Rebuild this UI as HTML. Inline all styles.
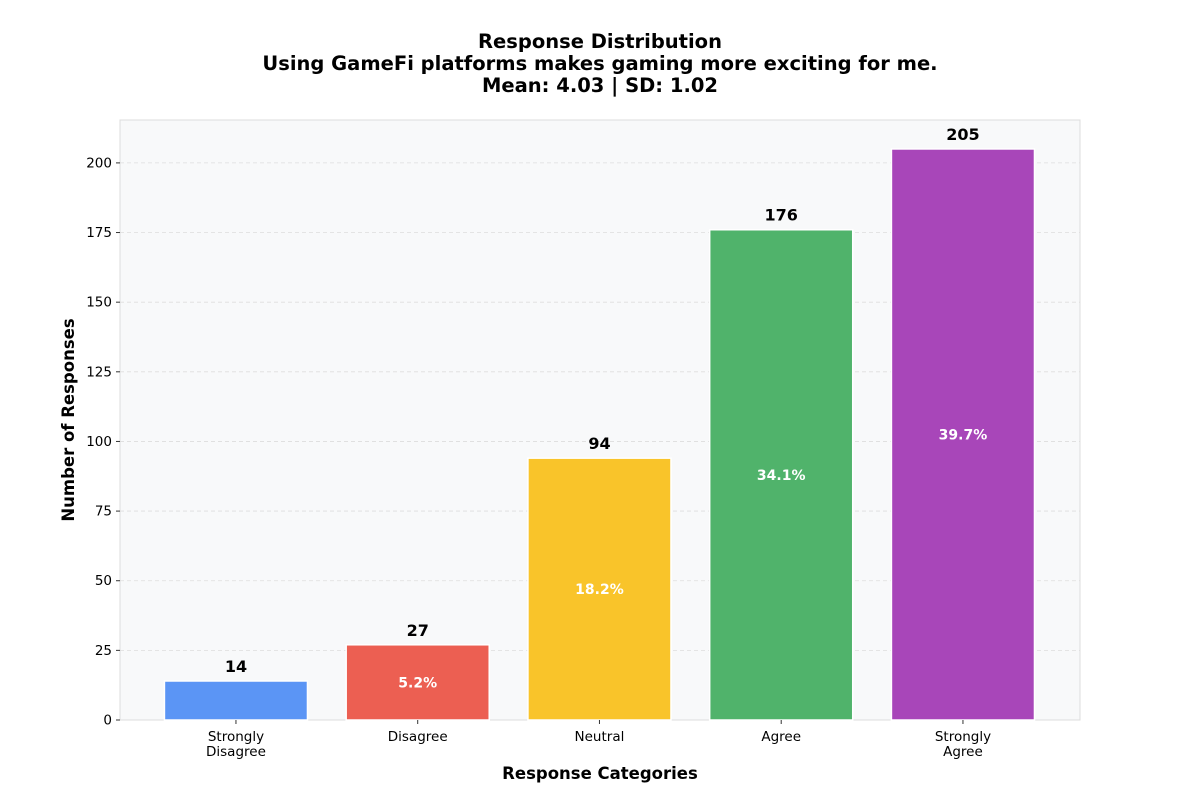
<!DOCTYPE html>
<html><head><meta charset="utf-8"><style>
body{margin:0;background:#fff;font-family:"Liberation Sans","DejaVu Sans",sans-serif;}
svg text{font-family:"DejaVu Sans","Liberation Sans",sans-serif;}
</style></head><body>
<svg id="chart" width="1200" height="800" xmlns="http://www.w3.org/2000/svg">
<rect width="1200" height="800" fill="#fff"/>
<g font-weight="bold" font-size="19.5" text-anchor="middle" fill="#000">
<text x="600" y="48">Response Distribution</text>
<text x="600" y="70">Using GameFi platforms makes gaming more exciting for me.</text>
<text x="600" y="92">Mean: 4.03 | SD: 1.02</text>
</g>
<rect x="120" y="120" width="960" height="600" fill="#f8f9fa" stroke="#dddddd" stroke-width="1"/>
<g id="grid"></g><g id="bars"></g><g id="axes"></g>
<text transform="translate(74,420) rotate(-90)" text-anchor="middle" font-size="16.5" font-weight="bold">Number of Responses</text>
<text x="600" y="779" text-anchor="middle" font-size="16.5" font-weight="bold">Response Categories</text>
</svg>
<script>
const categories=[["Strongly","Disagree"],["Disagree"],["Neutral"],["Agree"],["Strongly","Agree"]];
const counts=[14,27,94,176,205];
const colors=["#5b95f5","#ec5f52","#f9c42a","#50b36b","#a846b9"];
const yTicks=[0,25,50,75,100,125,150,175,200];
const NS="http://www.w3.org/2000/svg";
const L=120,R=1080,T=120,B=720,yMax=215.4,xMin=-0.638,xMax=4.644;
const y=v=>B-(v/yMax)*(B-T);
const x=i=>L+(i-xMin)/(xMax-xMin)*(R-L);
const total=counts.reduce((a,b)=>a+b,0);
function mk(tag,attrs,parent,txt){const e=document.createElementNS(NS,tag);for(const k in attrs)e.setAttribute(k,attrs[k]);if(txt!==undefined)e.textContent=txt;parent.appendChild(e);return e;}
const grid=document.getElementById('grid'),bars=document.getElementById('bars'),axes=document.getElementById('axes');
yTicks.forEach(t=>{
 if(t>0){const g=mk('line',{x1:L,x2:R,y1:y(t),y2:y(t),stroke:"#dddddd","stroke-dasharray":"4,3","stroke-width":0.8},grid);
 }
 const tk=mk('line',{x1:L-4,x2:L,y1:y(t),y2:y(t),stroke:"#333"},axes);
 
 const lb=mk('text',{x:L-8,y:y(t)+4.5,"text-anchor":"end","font-size":13.5},axes,String(t));
 
});
const bw=0.787*(R-L)/(xMax-xMin);
counts.forEach((c,i)=>{
 const cx=x(i);
 const r=mk('rect',{x:cx-bw/2,y:y(c),width:bw,height:B-y(c),fill:colors[i],stroke:"#fff","stroke-width":1.5},bars);
 
 const v=mk('text',{x:cx,y:y(c)-9,"text-anchor":"middle","font-size":16,"font-weight":"bold"},bars,String(c));
 
 const pct=c/total*100;
 if(pct>=5){const p=mk('text',{x:cx,y:y(c/2)+5,"text-anchor":"middle","font-size":14,"font-weight":"bold",fill:"#fff"},bars,pct.toFixed(1)+"%");
 }
 const tk=mk('line',{x1:cx,x2:cx,y1:B,y2:B+4,stroke:"#333"},axes);
 
 categories[i].forEach((s,j)=>{const t=mk('text',{x:cx,y:B+21+j*15,"text-anchor":"middle","font-size":13.5},axes,s);
 });
});
</script>
</body></html>
